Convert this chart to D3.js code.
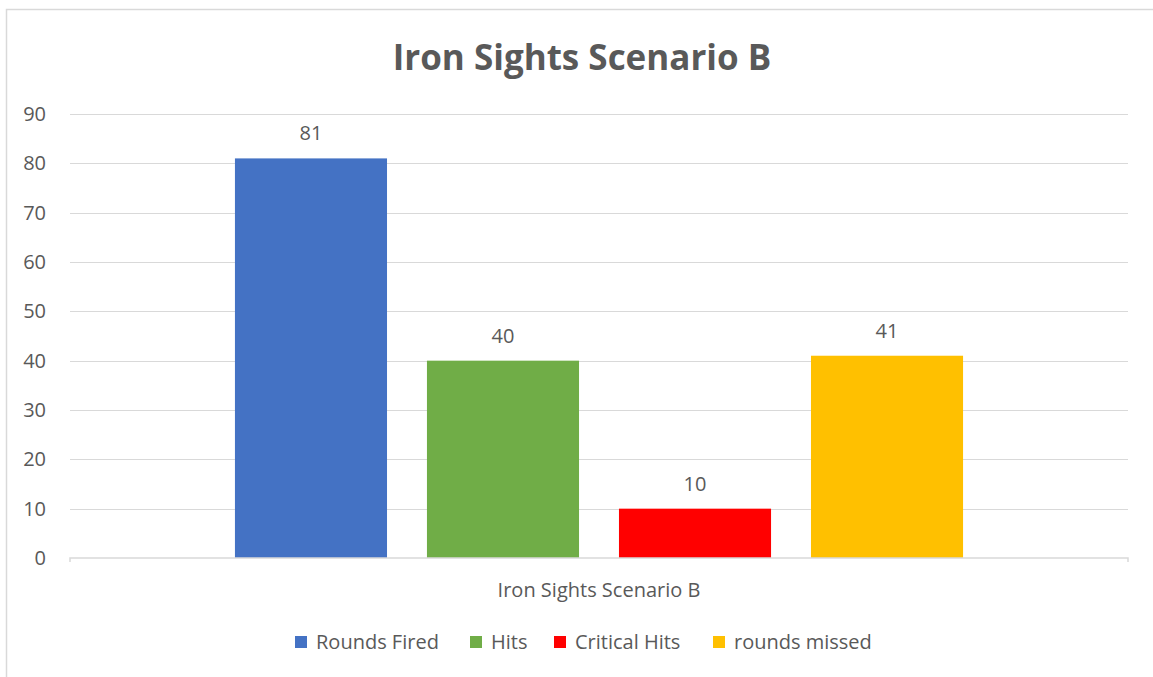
<!DOCTYPE html>
<html>
<head>
<meta charset="utf-8">
<script src="https://cdn.jsdelivr.net/npm/d3@7"></script>
<style>
  body { margin: 0; background: #fff; }
  text { font-family: "Open Sans", "Noto Sans", sans-serif; fill: #595959; }
</style>
</head>
<body>
<div id="chart"></div>
<script>
const categories = ['Iron Sights Scenario B'];
const seriesNames = ['Rounds Fired', 'Hits', 'Critical Hits', 'rounds missed'];
const seriesValues = [81, 40, 10, 41];
const seriesColors = ['#4472C4', '#70AD47', '#FF0000', '#FFC000'];
const yTicks = [0, 10, 20, 30, 40, 50, 60, 70, 80, 90];

const width = 1153, height = 677;
const plot = { left: 70, right: 1128, top: 114, bottom: 558 };

const svg = d3.select('#chart')
    .append('svg')
    .attr('width', width)
    .attr('height', height);

// chart border
svg.append('rect')
    .attr('x', 6.5).attr('y', 9.5)
    .attr('width', 1160).attr('height', 700)
    .attr('fill', 'none')
    .attr('stroke', '#d9d9d9')
    .attr('stroke-width', 1.5);

svg.append('text')
    .attr('x', 582).attr('y', 70)
    .attr('text-anchor', 'middle')
    .style('font-size', '35px')
    .style('font-weight', 'bold')
    .text('Iron Sights Scenario B');

const y = d3.scaleLinear().domain([0, 90]).range([plot.bottom, plot.top]);

const x0 = d3.scaleBand().domain(categories).range([plot.left, plot.right]);
const x1 = d3.scaleBand().domain(seriesNames)
    .range([0, x0.bandwidth()])
    .paddingInner(0.208)
    .paddingOuter(0.859);

// gridlines
svg.append('g')
    .selectAll('line')
    .data(yTicks.filter(d => d > 0))
    .enter()
    .append('line')
    .attr('x1', plot.left).attr('x2', plot.right)
    .attr('y1', d => Math.round(y(d)) + 0.5)
    .attr('y2', d => Math.round(y(d)) + 0.5)
    .attr('stroke', '#d9d9d9')
    .attr('stroke-width', 1);

// y labels
svg.append('g')
    .selectAll('text')
    .data(yTicks)
    .enter()
    .append('text')
    .attr('x', 46)
    .attr('y', d => y(d))
    .attr('dy', '0.35em')
    .attr('text-anchor', 'end')
    .style('font-size', '20px')
    .text(d => d);

// bars
const group = svg.append('g')
    .attr('transform', `translate(${x0(categories[0])},0)`);

group.selectAll('rect')
    .data(seriesValues)
    .enter()
    .append('rect')
    .attr('x', (d, i) => x1(seriesNames[i]))
    .attr('y', d => y(d))
    .attr('width', x1.bandwidth())
    .attr('height', d => y(0) - y(d))
    .attr('fill', (d, i) => seriesColors[i]);

group.selectAll('text.val')
    .data(seriesValues)
    .enter()
    .append('text')
    .attr('class', 'val')
    .attr('x', (d, i) => x1(seriesNames[i]) + x1.bandwidth() / 2)
    .attr('y', d => y(d) - 18)
    .attr('text-anchor', 'middle')
    .style('font-size', '20px')
    .text(d => d);

// category axis
svg.append('path')
    .attr('d', `M${plot.left},${plot.bottom + 4}V${plot.bottom}H${plot.right}V${plot.bottom + 4}`)
    .attr('fill', 'none')
    .attr('stroke', '#d9d9d9')
    .attr('stroke-width', 1.5);

svg.append('text')
    .attr('x', x0(categories[0]) + x0.bandwidth() / 2)
    .attr('y', 597)
    .attr('text-anchor', 'middle')
    .style('font-size', '20px')
    .text(categories[0]);

// legend
const legendX = [295, 470, 554, 713];
const legend = svg.append('g')
    .selectAll('g')
    .data(seriesNames)
    .enter()
    .append('g')
    .attr('transform', (d, i) => `translate(${legendX[i]},636)`);

legend.append('rect')
    .attr('width', 12).attr('height', 12)
    .attr('fill', (d, i) => seriesColors[i]);

legend.append('text')
    .attr('x', 21).attr('y', 6)
    .attr('dy', '0.35em')
    .style('font-size', '20px')
    .text(d => d);
</script>
</body>
</html>
